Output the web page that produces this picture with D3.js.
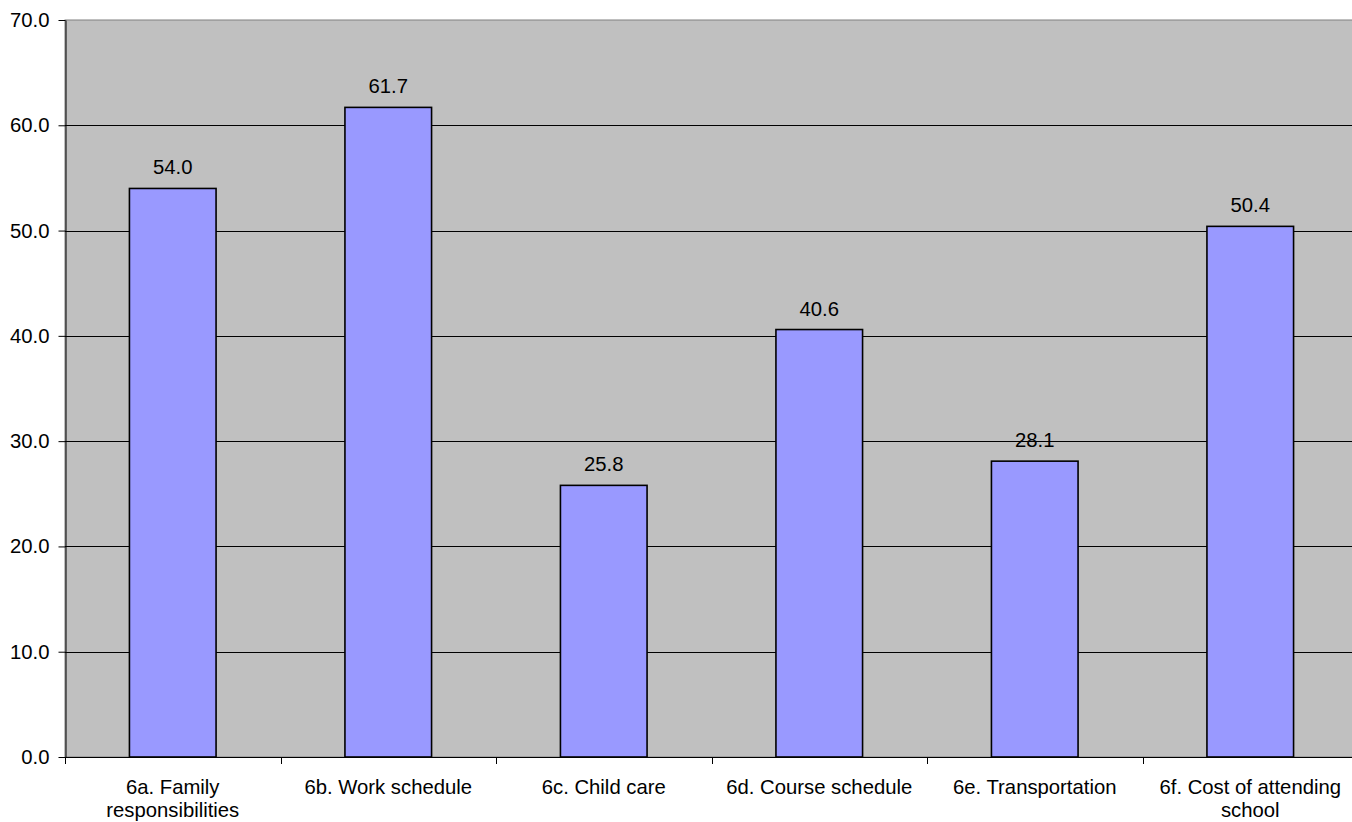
<!DOCTYPE html>
<html>
<head>
<meta charset="utf-8">
<script src="https://d3js.org/d3.v7.min.js"></script>
<style>
  body { margin: 0; background: #fff; }
  text { font-family: "Liberation Sans", Arial, sans-serif; fill: #000; }
</style>
</head>
<body>
<svg id="chart" width="1352" height="822"></svg>
<script>
// data
const categories = ["6a. Family responsibilities", "6b. Work schedule", "6c. Child care",
                    "6d. Course schedule", "6e. Transportation", "6f. Cost of attending school"];
// wrapped category labels (as in the picture)
const categoryLines = [["6a. Family", "responsibilities"], ["6b. Work schedule"], ["6c. Child care"],
                       ["6d. Course schedule"], ["6e. Transportation"], ["6f. Cost of attending", "school"]];
const values = [54.0, 61.7, 25.8, 40.6, 28.1, 50.4];
const yTicks = [0, 10, 20, 30, 40, 50, 60, 70];

// plot area runs slightly past the right edge of the picture
const plotLeft = 65, plotRight = 1358, plotTop = 20, plotBottom = 757;
const fontSize = "20.3px";

const svg = d3.select("#chart");

const x = d3.scaleBand().domain(categories).range([plotLeft, plotRight]).padding(0);
const y = d3.scaleLinear().domain([0, 70]).range([plotBottom, plotTop]);

// plot area background
svg.append("rect")
    .attr("x", plotLeft).attr("y", plotTop)
    .attr("width", plotRight - plotLeft).attr("height", plotBottom - plotTop)
    .attr("fill", "#c0c0c0")
    .attr("stroke", "#808080").attr("stroke-width", 1);

// gridlines
svg.append("g").selectAll("line")
    .data(yTicks.filter(d => d > 0 && d < 70))
    .enter().append("line")
    .attr("x1", plotLeft).attr("x2", plotRight)
    .attr("y1", d => Math.round(y(d)) + 0.5).attr("y2", d => Math.round(y(d)) + 0.5)
    .attr("stroke", "#000").attr("stroke-width", 1);

// y axis
const yAxis = svg.append("g")
    .attr("transform", `translate(${plotLeft + 0.5},0)`)
    .call(d3.axisLeft(y).tickValues(yTicks).tickFormat(d3.format(".1f")).tickSize(7).tickSizeOuter(0));
yAxis.select(".domain").attr("stroke", "#000");
yAxis.selectAll(".tick line").attr("stroke", "#000");
yAxis.selectAll(".tick text")
    .attr("x", -16)
    .style("font-size", fontSize)
    .style("font-family", "Liberation Sans, Arial, sans-serif");

// bars
const barW = x.bandwidth() * 0.402;
svg.append("g").selectAll("rect")
    .data(values)
    .enter().append("rect")
    .attr("x", (d, i) => x(categories[i]) + (x.bandwidth() - barW) / 2)
    .attr("y", d => y(d))
    .attr("width", barW)
    .attr("height", d => plotBottom - y(d))
    .attr("fill", "#9999ff")
    .attr("stroke", "#000").attr("stroke-width", 1.6);

// value labels
svg.append("g").selectAll("text")
    .data(values)
    .enter().append("text")
    .attr("x", (d, i) => x(categories[i]) + x.bandwidth() / 2)
    .attr("y", d => y(d) - 14)
    .attr("text-anchor", "middle")
    .style("font-size", fontSize)
    .text(d => d.toFixed(1));

// x axis line and boundary ticks
svg.append("line")
    .attr("x1", plotLeft).attr("x2", plotRight)
    .attr("y1", plotBottom + 0.5).attr("y2", plotBottom + 0.5)
    .attr("stroke", "#000");
const bounds = categories.map(c => x(c)).concat([plotRight]);
svg.append("g").selectAll("line")
    .data(bounds)
    .enter().append("line")
    .attr("x1", d => Math.round(d) + 0.5).attr("x2", d => Math.round(d) + 0.5)
    .attr("y1", plotBottom).attr("y2", plotBottom + 7)
    .attr("stroke", "#000");

// category labels
const catG = svg.append("g").selectAll("text")
    .data(categories)
    .enter().append("text")
    .attr("text-anchor", "middle")
    .attr("x", c => x(c) + x.bandwidth() / 2)
    .attr("y", 794)
    .style("font-size", fontSize);
catG.each(function (c, i) {
    const t = d3.select(this);
    categoryLines[i].forEach((line, j) => {
        t.append("tspan")
            .attr("x", x(c) + x.bandwidth() / 2)
            .attr("dy", j === 0 ? 0 : 23)
            .text(line);
    });
});
</script>
</body>
</html>
